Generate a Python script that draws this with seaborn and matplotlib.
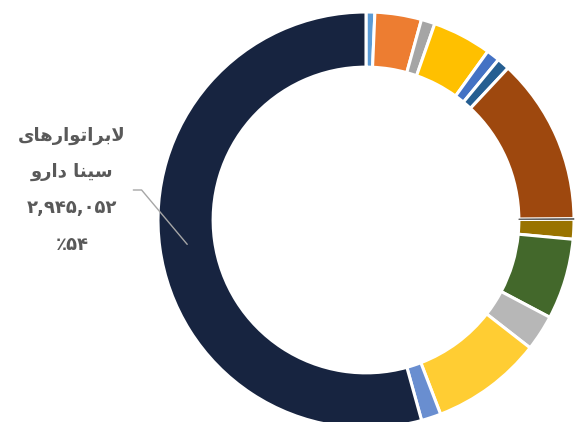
import numpy as np
import matplotlib
matplotlib.use('Agg')
import matplotlib.pyplot as plt
import seaborn as sns

# سهم هر شرکت (ریال) - مقادیر از روی تصویر تخمین زده شده
values = [37000, 196000, 58000, 249000, 56000, 53000, 701000, 3000,
          83000, 340000, 151000, 468000, 83000, 2945052]
colors = ['#5b9bd5', '#ed7d31', '#a5a5a5', '#ffc000', '#4472c4', '#255e91',
          '#9e480e', '#636363', '#997300', '#43682b', '#b7b7b7', '#ffcd33',
          '#698ed0', '#172440']
label_name = 'لابراتوارهای سینا دارو'
label_index = 13

sns.set_theme(style='white')
plt.rcParams['font.family'] = ['DejaVu Sans']

# شکل دادن حروف فارسی (matplotlib حروف را به هم نمی‌چسباند)
forms = {
    'ا': ('\uFE8D', '\uFE8E', None, None),
    'ب': ('\uFE8F', '\uFE90', '\uFE91', '\uFE92'),
    'ت': ('\uFE95', '\uFE96', '\uFE97', '\uFE98'),
    'د': ('\uFEA9', '\uFEAA', None, None),
    'ر': ('\uFEAD', '\uFEAE', None, None),
    'س': ('\uFEB1', '\uFEB2', '\uFEB3', '\uFEB4'),
    'ل': ('\uFEDD', '\uFEDE', '\uFEDF', '\uFEE0'),
    'ن': ('\uFEE5', '\uFEE6', '\uFEE7', '\uFEE8'),
    'ه': ('\uFEE9', '\uFEEA', '\uFEEB', '\uFEEC'),
    'و': ('\uFEED', '\uFEEE', None, None),
    'ی': ('\uFEEF', '\uFEF0', '\uFEF3', '\uFEF4'),
}


def shape_word(w):
    out = []
    i = 0
    prev_joins = False
    while i < len(w):
        c = w[i]
        if c == 'ل' and i + 1 < len(w) and w[i + 1] == 'ا':
            out.append('\uFEFC' if prev_joins else '\uFEFB')
            prev_joins = False
            i += 2
            continue
        f = forms[c]
        nxt = i + 1 < len(w)
        can_next = f[2] is not None and nxt
        if prev_joins and can_next:
            g = f[3]
        elif prev_joins:
            g = f[1]
        elif can_next:
            g = f[2]
        else:
            g = f[0]
        out.append(g)
        prev_joins = can_next
        i += 1
    return ''.join(out)


def rtl(text):
    return ' '.join(shape_word(w) for w in text.split())[::-1]


def fa_digits(s):
    return s.translate(str.maketrans('0123456789', '۰۱۲۳۴۵۶۷۸۹'))


fig = plt.figure(figsize=(5.81, 4.22), dpi=100)
ax = fig.add_axes([0, 0, 1, 1])
wedges, _ = ax.pie(values, colors=colors, startangle=90, counterclock=False,
                   radius=1.0,
                   wedgeprops=dict(width=0.265, edgecolor='white', linewidth=2.2))
# قطعه بسیار کوچک به صورت خط نازک
wedges[7].set_edgecolor(colors[7])
wedges[7].set_linewidth(0.6)
wedges[7].set_zorder(5)

r = 208.0
ax.set_xlim(-366 / r, 215 / r)
ax.set_ylim(-202 / r, 220 / r)
ax.set_aspect('auto')
ax.axis('off')

w = wedges[label_index]
mid = np.deg2rad((w.theta1 + w.theta2) / 2)
rm = 1.0 - 0.265 / 2
total = sum(values)
pct = round(100 * values[label_index] / total)
name_lines = label_name.split(' ', 1)
label = '\n'.join([rtl(name_lines[0]), rtl(name_lines[1]),
                   fa_digits(f'{values[label_index]:,}'),
                   '٪' + fa_digits(str(pct))])
ax.annotate(label, xy=(rm * np.cos(mid), rm * np.sin(mid)),
            xytext=(-294 / r, 30 / r), ha='center', va='center',
            fontsize=13, fontweight='bold', color='#595959', linespacing=2.3,
            arrowprops=dict(arrowstyle='-', color='#a6a6a6', lw=1.0,
                            shrinkA=3, shrinkB=0,
                            connectionstyle='angle,angleA=0,angleB=130'))

fig.savefig('out.png', dpi=100)
